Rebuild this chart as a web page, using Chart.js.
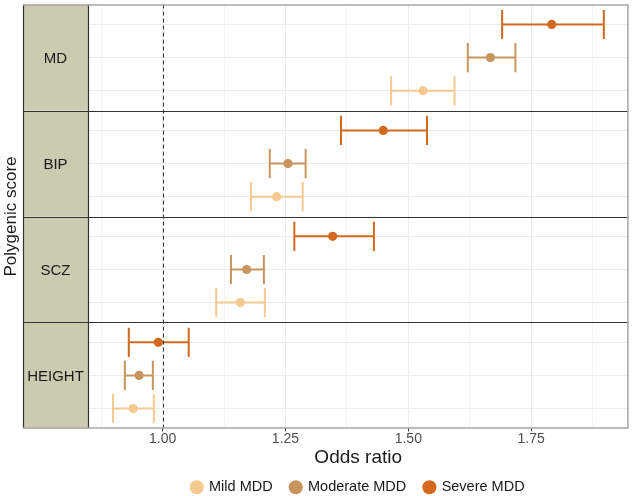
<!DOCTYPE html>
<html>
<head>
<meta charset="utf-8">
<script src="https://cdn.jsdelivr.net/npm/chart.js@4"></script>
<style>
  html, body { margin: 0; padding: 0; background: #ffffff; }
  #wrap { width: 633px; height: 496px; }
</style>
</head>
<body>
<div id="wrap"><canvas id="forest"></canvas></div>
<script>
// polygenic scores, one panel each (top to bottom)
var scores = ['MD', 'BIP', 'SCZ', 'HEIGHT'];
var groups = ['Mild MDD', 'Moderate MDD', 'Severe MDD'];

// odds ratios and 95% CI, in the order of scores
var mildOR = [1.530, 1.232, 1.158, 0.940];
var mildLo = [1.465, 1.180, 1.109, 0.899];
var mildHi = [1.594, 1.285, 1.208, 0.982];

var moderateOR = [1.667, 1.255, 1.171, 0.952];
var moderateLo = [1.621, 1.218, 1.139, 0.923];
var moderateHi = [1.718, 1.291, 1.206, 0.980];

var severeOR = [1.792, 1.449, 1.346, 0.991];
var severeLo = [1.691, 1.363, 1.268, 0.931];
var severeHi = [1.898, 1.538, 1.430, 1.053];

var xTickValues = [1.00, 1.25, 1.50, 1.75];
var colors = ['#f5c98f', '#c8955e', '#d2691e'];

// each panel spans 3.2 units, rows sit at 0.6 / 1.6 / 2.6 (severe on top)
var PANEL = 3.2;
var rowOffset = [2.6, 1.6, 0.6];

function rowY(panel, g) { return panel * PANEL + rowOffset[g]; }

var ors = [mildOR, moderateOR, severeOR];
var los = [mildLo, moderateLo, severeLo];
var his = [mildHi, moderateHi, severeHi];

var datasets = groups.map(function (name, g) {
    return {
        label: name,
        data: scores.map(function (s, p) {
            return { x: ors[g][p], y: rowY(p, g), lo: los[g][p], hi: his[g][p] };
        }),
        backgroundColor: colors[g],
        borderColor: colors[g],
        pointRadius: 4.6,
        pointHoverRadius: 4.6,
        pointBorderWidth: 0
    };
});

var font = "'Liberation Sans', Arial, sans-serif";

var errorBars = {
    id: 'errorBars',
    beforeDatasetsDraw: function (chart) {
        var ctx = chart.ctx, xs = chart.scales.x, ys = chart.scales.y;
        ctx.save();
        chart.data.datasets.forEach(function (ds) {
            ctx.strokeStyle = ds.borderColor;
            ctx.lineWidth = 2;
            ds.data.forEach(function (d) {
                var x0 = xs.getPixelForValue(d.lo), x1 = xs.getPixelForValue(d.hi);
                var y = ys.getPixelForValue(d.y);
                var cap = ys.getPixelForValue(d.y + 0.44) - y;
                ctx.beginPath();
                ctx.moveTo(x0, y); ctx.lineTo(x1, y);
                ctx.moveTo(x0, y - cap); ctx.lineTo(x0, y + cap);
                ctx.moveTo(x1, y - cap); ctx.lineTo(x1, y + cap);
                ctx.stroke();
            });
        });
        ctx.restore();
    }
};

var facets = {
    id: 'facets',
    beforeDatasetsDraw: function (chart) {
        var ctx = chart.ctx, area = chart.chartArea, xs = chart.scales.x;
        ctx.save();
        // reference line at OR = 1
        var x1 = Math.round(xs.getPixelForValue(1)) + 0.5;
        ctx.strokeStyle = '#333333';
        ctx.lineWidth = 1;
        ctx.setLineDash([4, 3]);
        ctx.beginPath();
        ctx.moveTo(x1, area.top); ctx.lineTo(x1, area.bottom);
        ctx.stroke();
        ctx.setLineDash([]);
        ctx.restore();
    },
    afterDraw: function (chart) {
        var ctx = chart.ctx, area = chart.chartArea, ys = chart.scales.y;
        var left = 23;
        ctx.save();
        scores.forEach(function (s, p) {
            var top = ys.getPixelForValue(p * PANEL);
            var bot = ys.getPixelForValue((p + 1) * PANEL);
            ctx.fillStyle = '#cccab0';
            ctx.fillRect(left, top, area.left - left, bot - top);
            ctx.fillStyle = '#1a1a1a';
            ctx.font = '15px ' + font;
            ctx.textAlign = 'center';
            ctx.textBaseline = 'middle';
            ctx.fillText(s, (left + area.left) / 2, (top + bot) / 2 + 1);
        });
        // strip separators and edges
        ctx.strokeStyle = '#333333';
        ctx.lineWidth = 1.2;
        ctx.beginPath();
        for (var p = 1; p < scores.length; p++) {
            var y = Math.round(ys.getPixelForValue(p * PANEL)) + 0.5;
            ctx.moveTo(left, y); ctx.lineTo(area.right, y);
        }
        ctx.moveTo(Math.round(area.left) + 0.5, area.top); ctx.lineTo(Math.round(area.left) + 0.5, area.bottom);
        ctx.moveTo(left + 0.5, area.top); ctx.lineTo(left + 0.5, area.bottom);
        ctx.stroke();
        // outer frame
        ctx.strokeStyle = '#a6a6a6';
        ctx.lineWidth = 1.5;
        ctx.beginPath();
        ctx.moveTo(left, area.top + 0.5); ctx.lineTo(area.right - 0.5, area.top + 0.5);
        ctx.lineTo(area.right - 0.5, area.bottom - 0.5); ctx.lineTo(left, area.bottom - 0.5);
        ctx.stroke();
        ctx.restore();
    }
};

var ctx = document.getElementById('forest').getContext('2d');
var forest = new Chart(ctx, {
    type: 'scatter',
    data: { datasets: datasets },
    options: {
        responsive: true,
        maintainAspectRatio: false,
        animation: false,
        layout: { padding: { top: 1, right: 1, left: 0, bottom: 0 } },
        scales: {
            x: {
                type: 'linear',
                min: 0.848,
                max: 1.948,
                afterBuildTicks: function (scale) {
                    var t = [];
                    for (var v = 0.875; v < 1.95; v += 0.125) t.push({ value: Math.round(v * 1000) / 1000 });
                    scale.ticks = t;
                },
                ticks: {
                    autoSkip: false,
                    maxRotation: 0,
                    padding: 1,
                    color: '#4d4d4d',
                    font: { family: font, size: 14, lineHeight: 0.9 },
                    callback: function (v) {
                        return xTickValues.indexOf(v) >= 0 ? v.toFixed(2) : '';
                    }
                },
                grid: {
                    color: function (c) {
                        return xTickValues.indexOf(c.tick.value) >= 0 ? '#ebebeb' : '#f4f4f4';
                    },
                    tickColor: function (c) {
                        return xTickValues.indexOf(c.tick.value) >= 0 ? '#333333' : 'rgba(0,0,0,0)';
                    },
                    tickLength: 3,
                    lineWidth: 1
                },
                border: { display: false },
                title: {
                    display: true,
                    text: 'Odds ratio',
                    color: '#1a1a1a',
                    font: { family: font, size: 19, lineHeight: 1 },
                    padding: { top: 2, bottom: 7 }
                }
            },
            y: {
                type: 'linear',
                reverse: true,
                min: 0,
                max: PANEL * scores.length,
                afterBuildTicks: function (scale) {
                    var t = [];
                    scores.forEach(function (s, p) {
                        rowOffset.slice().reverse().forEach(function (o) {
                            t.push({ value: p * PANEL + o });
                        });
                    });
                    scale.ticks = t;
                },
                afterFit: function (scale) { scale.width = 88; },
                ticks: { display: false },
                grid: { color: '#ebebeb', drawTicks: false, lineWidth: 1 },
                border: { display: false },
                title: {
                    display: true,
                    text: 'Polygenic score',
                    color: '#1a1a1a',
                    font: { family: font, size: 17 },
                    padding: { top: 1, bottom: 0 }
                }
            }
        },
        plugins: {
            tooltip: { enabled: false },
            legend: {
                position: 'bottom',
                fullSize: false,
                maxHeight: 22,
                labels: {
                    usePointStyle: true,
                    pointStyle: 'circle',
                    boxWidth: 10,
                    boxHeight: 10,
                    padding: 6,
                    color: '#1a1a1a',
                    font: { family: font, size: 14.5 },
                    generateLabels: function (chart) {
                        var items = Chart.defaults.plugins.legend.labels.generateLabels(chart);
                        items.forEach(function (it, i) {
                            if (i < items.length - 1) it.text = it.text + '   ';
                        });
                        return items;
                    }
                }
            }
        }
    },
    plugins: [errorBars, facets]
});
</script>
</body>
</html>
